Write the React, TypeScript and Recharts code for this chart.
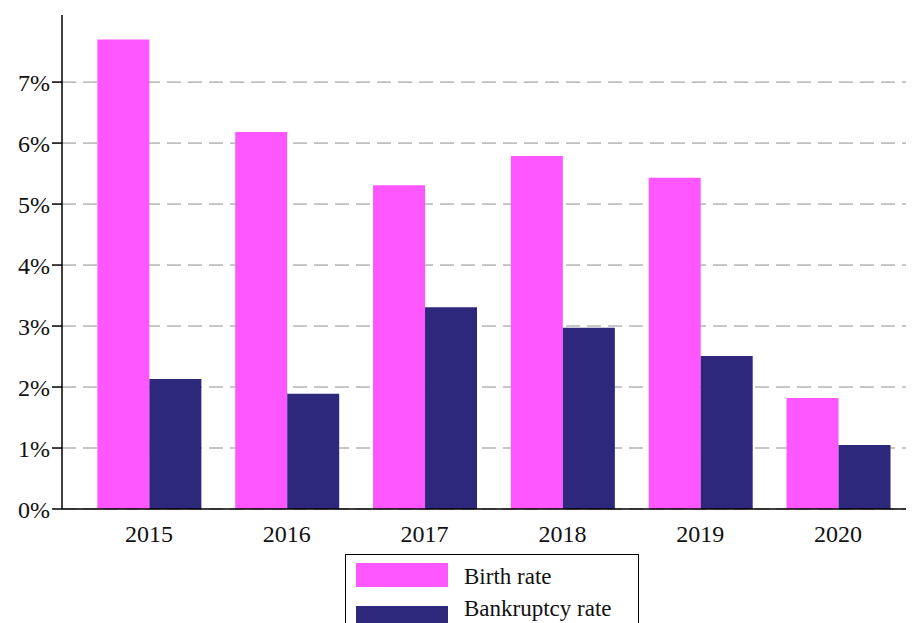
import React from 'react';
import { BarChart, Bar, XAxis, YAxis, CartesianGrid } from 'recharts';

const years = ['2015', '2016', '2017', '2018', '2019', '2020'];
const birthRate = [7.7, 6.18, 5.31, 5.79, 5.43, 1.82];
const bankruptcyRate = [2.13, 1.89, 3.31, 2.97, 2.51, 1.05];
const yTicks = [0, 1, 2, 3, 4, 5, 6, 7];
const yMax = 8.1;

const series = [
  { key: 'birth', label: 'Birth rate', color: '#FF57FF' },
  { key: 'bankruptcy', label: 'Bankruptcy rate', color: '#2E287C' },
];

const data = years.map((year, i) => ({
  year,
  birth: birthRate[i],
  bankruptcy: bankruptcyRate[i],
}));

const FONT = '"Liberation Serif", "DejaVu Serif", serif';

// grid only at the labelled ticks (no line at the top of the plot)
const gridRows = ({ offset }: any) =>
  yTicks.map(t => offset.top + offset.height * (1 - t / yMax));

export default function App() {
  return (
    <div style={{ position: 'relative', width: 906, height: 615, overflow: 'hidden', fontFamily: FONT }}>
      <BarChart
        width={906}
        height={630}
        data={data}
        margin={{ top: 7, right: 1, left: 0, bottom: 89 }}
        barGap={0}
        barCategoryGap="12.6%"
      >
        <CartesianGrid
          vertical={false}
          stroke="#8f8f8f"
          strokeDasharray="14 7"
          horizontalCoordinatesGenerator={gridRows}
        />
        <XAxis
          dataKey="year"
          tickLine={false}
          stroke="#000"
          strokeWidth={1.5}
          height={40}
          padding={{ left: 18, right: 6 }}
          tick={{ fill: '#111', fontSize: 24, fontFamily: FONT }}
          tickMargin={10}
        />
        <YAxis
          width={54}
          domain={[0, yMax]}
          ticks={yTicks}
          interval={0}
          tickFormatter={(v: number) => `${v}%`}
          stroke="#000"
          strokeWidth={1.5}
          tickSize={10}
          tick={{ fill: '#111', fontSize: 24, fontFamily: FONT }}
        />
        {series.map(s => (
          <Bar key={s.key} dataKey={s.key} name={s.label} fill={s.color} isAnimationActive={false} />
        ))}
      </BarChart>
      <div
        style={{
          position: 'absolute',
          left: 337,
          top: 546,
          width: 294,
          height: 90,
          border: '1px solid #000',
          boxSizing: 'border-box',
          background: '#fff',
        }}
      >
        {series.map((s, i) => (
          <React.Fragment key={s.key}>
            <div
              style={{ position: 'absolute', left: 10, top: 8 + i * 43, width: 92, height: 24, background: s.color }}
            />
            <span
              style={{
                position: 'absolute',
                left: 118,
                top: 10 + i * 32,
                fontSize: 23,
                color: '#111',
                lineHeight: '24px',
                whiteSpace: 'nowrap',
              }}
            >
              {s.label}
            </span>
          </React.Fragment>
        ))}
      </div>
    </div>
  );
}
